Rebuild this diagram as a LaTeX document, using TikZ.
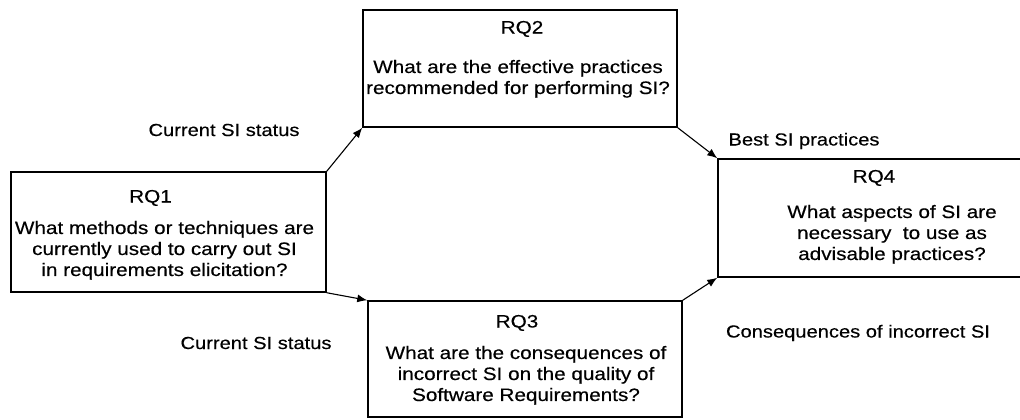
\documentclass[tikz,border=0pt]{standalone}
\usepackage{fontspec}
\setmainfont{Liberation Sans}[FakeStretch=1.15, FakeBold=0.35]
\usepackage{tikz}
\usetikzlibrary{arrows.meta,positioning}
\tikzstyle{block} = [draw, rectangle, line width=1.5pt, inner sep=0pt]
\tikzstyle{title} = [font=\fontsize{18}{21}\selectfont, inner sep=0pt]
\tikzstyle{question} = [align=center, font=\fontsize{18}{21}\selectfont, inner sep=0pt]
\tikzstyle{outcome} = [font=\fontsize{17.5}{21}\selectfont, inner sep=0pt]
\tikzstyle{connector} = [->, line width=1.1pt]

\begin{document}
\begin{tikzpicture}[x=1pt, y=-1pt, >={Latex[length=10pt, width=8pt]}]
    \useasboundingbox (0,0) rectangle (1020,420);

    % research questions
    \node (rq1) [block, minimum width=315pt, minimum height=120pt] at (168.5,232) {};
    \node (rq2) [block, minimum width=314pt, minimum height=117pt] at (520,68.5) {};
    \node (rq3) [block, minimum width=314pt, minimum height=116pt] at (525,359) {};
    \node (rq4) [block, minimum width=312pt, minimum height=118pt] at (874,218) {};

    \node (rq1title) [title, below=18.5pt of rq1.north, xshift=-18pt] {RQ1};
    \node (rq2title) [title, below=11.5pt of rq2.north, xshift=2pt] {RQ2};
    \node (rq3title) [title, below=14.5pt of rq3.north, xshift=-8pt] {RQ3};
    \node (rq4title) [title, below=11.5pt of rq4.north] {RQ4};

    \node (rq1text) [question, below=49.5pt of rq1.north, xshift=-4pt]
        {What methods or techniques are\\ currently used to carry out SI\\ in requirements elicitation?};
    \node (rq2text) [question, below=50.5pt of rq2.north, xshift=-2pt]
        {What are the effective practices\\ recommended for performing SI?};
    \node (rq3text) [question, below=45.5pt of rq3.north, xshift=1pt]
        {What are the consequences of\\ incorrect SI on the quality of\\ Software Requirements?};
    \node (rq4text) [question, below=46.5pt of rq4.north, xshift=18pt]
        {What aspects of SI are\\ necessary\ \ to use as\\ advisable practices?};

    % what each question passes on
    \node (status1) [outcome] at (224,130) {Current SI status};
    \node (status2) [outcome] at (256,343) {Current SI status};
    \node (best) [outcome] at (804,141) {Best SI practices};
    \node (conseq) [outcome] at (858,333) {Consequences of incorrect SI};

    \draw [connector] (rq1.north east) -- (rq2.south west);
    \draw [connector] (rq1.south east) -- (rq3.north west);
    \draw [connector] (rq2.south east) -- (rq4.north west);
    \draw [connector] (rq3.north east) -- (rq4.south west);
\end{tikzpicture}
\end{document}
